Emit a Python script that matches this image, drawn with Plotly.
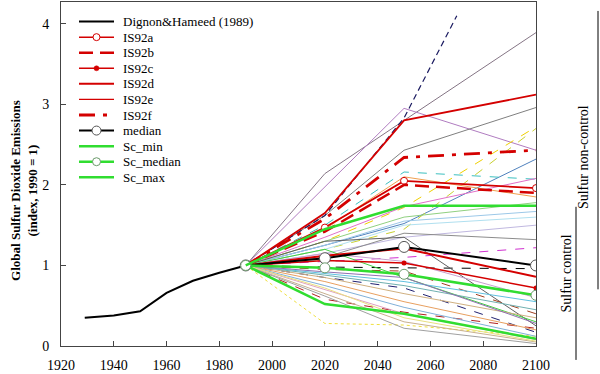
import plotly.graph_objects as go

# ---------------- data ----------------
years = [1990, 2020, 2050, 2100]

dignon_years = [1929, 1940, 1950, 1960, 1970, 1980, 1990]
dignon_values = [0.35, 0.38, 0.43, 0.66, 0.81, 0.91, 1.0]

is92a = [1.0, 1.47, 2.05, 1.96]
is92b = [1.0, 1.42, 2.00, 1.90]
is92c = [1.0, 1.06, 1.03, 0.72]
is92d = [1.0, 1.12, 1.21, 0.86]
is92e = [1.0, 1.65, 2.80, 3.12]
is92f = [1.0, 1.58, 2.34, 2.43]
median = [1.0, 1.09, 1.23, 1.00]
sc_min = [1.0, 0.52, 0.40, 0.09]
sc_median = [1.0, 0.97, 0.89, 0.63]
sc_max = [1.0, 1.45, 1.74, 1.74]

steep_years = [1990, 2020, 2050, 2070]
steep_values = [1.0, 1.62, 2.83, 4.10]

# other scenario runs, values at `years`
scenario_values = [
    [1.0, 2.14, 2.80, 3.89],
    [1.0, 1.98, 2.95, 2.43],
    [1.0, 1.62, 2.43, 2.96],
    [1.0, 1.25, 1.52, 2.32],
    [1.0, 1.50, 2.16, 2.07],
    [1.0, 1.30, 1.72, 2.72],
    [1.0, 1.20, 1.45, 2.70],
    [1.0, 1.45, 2.10, 1.85],
    [1.0, 1.35, 1.73, 2.08],
    [1.0, 1.30, 1.60, 1.78],
    [1.0, 1.25, 1.55, 1.67],
    [1.0, 1.20, 1.50, 1.60],
    [1.0, 1.15, 1.35, 1.50],
    [1.0, 1.10, 1.40, 1.32],
    [1.0, 1.05, 1.10, 1.22],
    [1.0, 0.98, 0.97, 0.96],
    [1.0, 1.30, 1.35, 0.25],
    [1.0, 1.20, 0.85, 0.30],
    [1.0, 1.15, 1.05, 0.60],
    [1.0, 0.85, 0.72, 0.17],
    [1.0, 0.95, 0.93, 0.40],
    [1.0, 0.58, 0.42, 0.22],
    [1.0, 0.28, 0.26, 0.12],
    [1.0, 0.90, 0.80, 0.55],
    [1.0, 0.85, 0.65, 0.35],
    [1.0, 0.80, 0.55, 0.20],
    [1.0, 0.75, 0.48, 0.12],
    [1.0, 0.70, 0.40, 0.08],
    [1.0, 0.65, 0.30, 0.05],
    [1.0, 0.62, 0.22, 0.03],
    [1.0, 0.72, 0.35, 0.06],
    [1.0, 0.88, 0.75, 0.45],
    [1.0, 0.92, 0.85, 0.28],
]
scenario_colors = [
    "#857585", "#b07cc0", "#808080", "#4f81bd", "#3cc0c0", "#f0d000",
    "#c8d030", "#f0a050", "#e070c8", "#90d080", "#9cc8e8", "#b0e0f0",
    "#c0b8e0", "#8c8c8c", "#d030d0", "#000000", "#606060", "#40d040",
    "#c8a0d0", "#202070", "#a04020", "#b02020", "#f0e040", "#60c0e0",
    "#d0b080", "#e8a060", "#80b0d8", "#e0a0c0", "#c8b090", "#a0a0a0",
    "#e8e080", "#70b0b0", "#9070b0",
]
scenario_dashes = [
    "solid", "solid", "solid", "solid", "dash", "dash", "dash", "solid",
    "solid", "solid", "solid", "solid", "solid", "solid", "dash", "dash",
    "solid", "solid", "solid", "dash", "dash", "dash", "dot", "solid",
    "solid", "solid", "solid", "solid", "solid", "solid", "solid", "solid",
    "solid",
]

x_ticks = [1920, 1940, 1960, 1980, 2000, 2020, 2040, 2060, 2080, 2100]
y_ticks = [0, 1, 2, 3, 4]

RED = "#d40000"
GREEN = "#30dd30"
FONT = "Liberation Serif"

fig = go.Figure()

# background scenario runs
for vals, col, dsh in zip(scenario_values, scenario_colors, scenario_dashes):
    fig.add_trace(go.Scatter(x=years, y=vals, mode="lines",
                             line=dict(color=col, width=1, dash=dsh),
                             showlegend=False, hoverinfo="skip"))
fig.add_trace(go.Scatter(x=steep_years, y=steep_values, mode="lines",
                         line=dict(color="#1a1a60", width=1.2, dash="6px,4px"),
                         showlegend=False, hoverinfo="skip"))

# main series: (name, x, y, line style, marker style)
main_series = [
    ("Dignon&Hameed (1989)", dignon_years, dignon_values,
     dict(color="black", width=2), None),
    ("IS92a", years, is92a, dict(color=RED, width=1.8),
     dict(size=7, color="white", line=dict(color=RED, width=1))),
    ("IS92b", years, is92b, dict(color=RED, width=2.5, dash="14px,7px"), None),
    ("IS92c", years, is92c, dict(color=RED, width=1.5),
     dict(size=5, color=RED, line=dict(color=RED, width=0))),
    ("IS92d", years, is92d, dict(color=RED, width=2), None),
    ("IS92e", years, is92e, dict(color=RED, width=1.8), None),
    ("IS92f", years, is92f, dict(color=RED, width=2.8, dash="16px,8px,4px,8px"), None),
    ("median", years, median, dict(color="black", width=2),
     dict(size=11, color="white", line=dict(color="#555555", width=1))),
    ("Sc_min", years, sc_min, dict(color=GREEN, width=2.5), None),
    ("Sc_median", years, sc_median, dict(color=GREEN, width=2.5),
     dict(size=10, color="white", line=dict(color="#6a9a6a", width=1))),
    ("Sc_max", years, sc_max, dict(color=GREEN, width=2.5), None),
]
legend_line_widths = {"IS92e": 1.2, "IS92d": 2, "IS92a": 1.5, "IS92c": 1.5}

for name, xs, ys, ln, mk in main_series:
    kw = dict(x=xs, y=ys, name=name, line=ln, showlegend=False)
    if mk is not None:
        kw["mode"] = "lines+markers"
        kw["marker"] = dict(symbol="circle", **mk)
    else:
        kw["mode"] = "lines"
    fig.add_trace(go.Scatter(**kw))

# ---- legend drawn in paper coordinates (plot area: 475 x 346 px) ----
PW, PH = 475.0, 346.0
def px_x(p):
    return (p - 61) / PW
def px_y(p):
    return (347 - p) / PH

for i, (name, xs, ys, ln, mk) in enumerate(main_series):
    yc = 20.7 + 15.66 * i
    lw = legend_line_widths.get(name, ln.get("width", 1))
    fig.add_shape(type="line", xref="paper", yref="paper",
                  x0=px_x(79), x1=px_x(114), y0=px_y(yc), y1=px_y(yc),
                  line=dict(color=ln["color"], width=lw, dash=ln.get("dash", "solid")))
    if mk is not None:
        r = mk["size"] / 2.0 - (1 if mk["size"] > 9 else 0)
        fig.add_shape(type="circle", xref="paper", yref="paper",
                      xsizemode="pixel", ysizemode="pixel",
                      xanchor=px_x(96.5), yanchor=px_y(yc),
                      x0=-r, x1=r, y0=-r, y1=r,
                      fillcolor=mk["color"],
                      line=dict(color=mk["line"]["color"], width=max(mk["line"]["width"], 0.5)))
    fig.add_annotation(text=name, xref="paper", yref="paper",
                       x=px_x(121), y=px_y(yc), xanchor="left", yanchor="middle",
                       showarrow=False, font=dict(family=FONT, size=13, color="black"))

fig.update_layout(
    width=600, height=374,
    margin=dict(l=61, r=64, t=1, b=27),
    paper_bgcolor="white", plot_bgcolor="white",
    font=dict(family=FONT, size=14, color="black"),
    showlegend=False,
    xaxis=dict(range=[1920, 2100], tickvals=x_ticks, ticks="inside", ticklen=5,
               tickcolor="#444", showline=True, linecolor="#444", linewidth=1,
               mirror=True, showgrid=False, zeroline=False,
               ticklabelstandoff=6, tickfont=dict(family=FONT, size=14)),
    yaxis=dict(range=[0, 4.27], tickvals=y_ticks, ticks="inside", ticklen=5,
               tickcolor="#444", showline=True, linecolor="#444", linewidth=1,
               mirror=True, showgrid=False, zeroline=False,
               ticklabelstandoff=8, tickfont=dict(family=FONT, size=14)),
)

# y-axis title
fig.add_annotation(text="<b>Global Sulfur Dioxide Emissions<br>(index, 1990 = 1)</b>",
                   xref="paper", yref="paper", x=px_x(24), y=px_y(191),
                   xanchor="center", yanchor="middle",
                   textangle=-90, showarrow=False,
                   font=dict(family=FONT, size=13, color="black"))

# right-hand side brackets
fig.add_shape(type="line", xref="paper", yref="paper", x0=px_x(598), x1=px_x(598),
              y0=px_y(290), y1=px_y(10), line=dict(color="black", width=1))
fig.add_shape(type="line", xref="paper", yref="paper", x0=px_x(576), x1=px_x(576),
              y0=px_y(361), y1=px_y(207), line=dict(color="black", width=1))
fig.add_annotation(text="Sulfur non-control", xref="paper", yref="paper",
                   x=px_x(583), y=px_y(157), xanchor="center", yanchor="middle",
                   textangle=-90, showarrow=False,
                   font=dict(family=FONT, size=14))
fig.add_annotation(text="Sulfur control", xref="paper", yref="paper",
                   x=px_x(566), y=px_y(274), xanchor="center", yanchor="middle",
                   textangle=-90, showarrow=False,
                   font=dict(family=FONT, size=14))

fig.write_html("out.html", config={"displayModeBar": False},
               post_script="document.body.style.margin='0px';")
